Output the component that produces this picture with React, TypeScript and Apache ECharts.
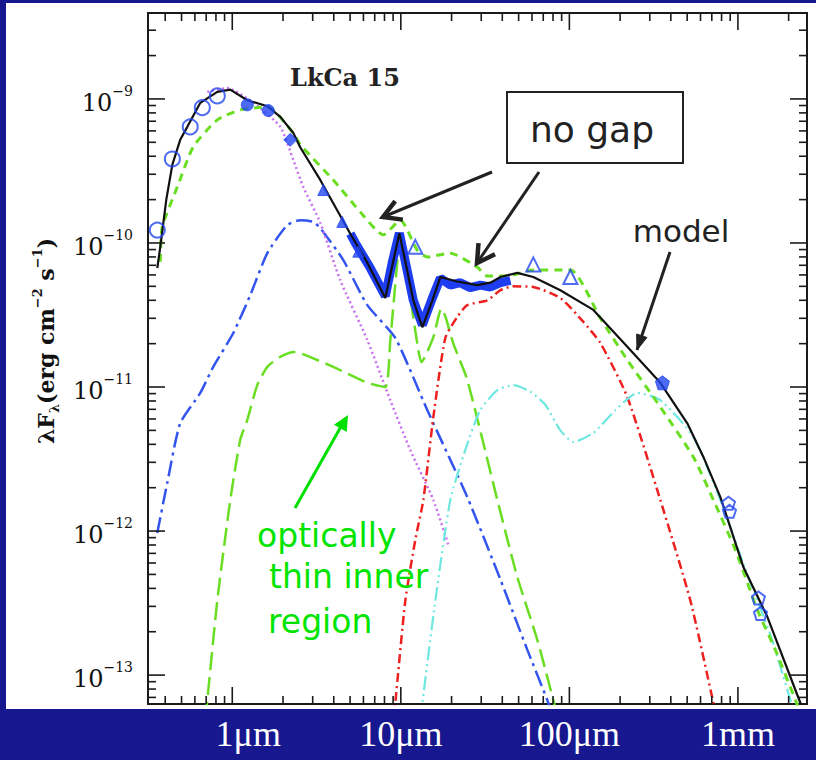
import React, { useEffect, useRef } from 'react';
import * as echarts from 'echarts';

type P = [number, number];

// Axis ranges (wavelength in μm, λFλ in erg cm^-2 s^-1)
const X_MIN = 0.3162;
const X_MAX = 2570;
const Y_MIN = 6.3e-14;
const Y_MAX = 3.95e-9;

const xLabelValues = [1, 10, 100, 1000];
const xLabelTexts = ['1μm', '10μm', '100μm', '1mm'];
const yLabelExponents = [-13, -12, -11, -10, -9];
const tickMultipliers = [1, 2, 3, 4, 5, 6, 7, 8, 9];
const tickDecadesX = [-1, 0, 1, 2, 3];
const tickDecadesY = [-14, -13, -12, -11, -10, -9];

// total model (black)
const totalModel: P[] = [
  [0.359, 6.7e-11], [0.374, 9.4e-11], [0.406, 2.0e-10], [0.441, 3.5e-10], [0.491, 5.2e-10],
  [0.541, 6.4e-10], [0.646, 9.4e-10], [0.815, 1.12e-9], [0.973, 1.16e-9], [1.227, 9.8e-10],
  [1.614, 8.9e-10], [1.928, 7.5e-10], [2.302, 5.8e-10], [2.534, 4.6e-10], [3.327, 2.74e-10],
  [5.015, 1.16e-10], [6.327, 7.3e-11], [8.09, 4.15e-11], [8.91, 7.0e-11], [9.8, 1.17e-10],
  [10.64, 7.4e-11], [11.86, 4.0e-11], [13.42, 2.6e-11], [15.39, 4.0e-11], [17.16, 5.8e-11],
  [21.6, 5.4e-11], [28.4, 5.1e-11], [34.0, 5.3e-11], [39.0, 5.8e-11], [49.1, 6.2e-11],
  [61.1, 5.8e-11], [88.4, 4.7e-11], [138.8, 3.43e-11], [220.8, 1.9e-11], [346.7, 1.07e-11],
  [501, 5.6e-12], [624, 3.27e-12], [787, 1.72e-12], [1079, 5.6e-13], [1497, 2.53e-13],
  [2349, 6.4e-14], [2500, 4.5e-14],
];

// full-disk "no gap" model (green short dashes)
const noGapModel: P[] = [
  [0.374, 7.4e-11], [0.384, 1.29e-10], [0.472, 2.45e-10], [0.587, 4.65e-10], [0.815, 7.15e-10],
  [1.115, 8.4e-10], [1.614, 8.8e-10], [2.302, 5.8e-10], [2.534, 4.8e-10], [3.975, 2.74e-10],
  [5.75, 1.64e-10], [7.87, 1.14e-10], [9.93, 1.44e-10], [12.53, 8.9e-11], [14.37, 8.0e-11],
  [19.67, 8.5e-11], [28.4, 6.8e-11], [32.6, 5.9e-11], [42.9, 5.9e-11], [61.1, 6.5e-11],
  [101.4, 6.5e-11], [152.8, 3.0e-11], [220.8, 1.54e-11], [346.7, 7.26e-12], [544, 3.27e-12],
  [716, 1.64e-12], [966, 7.4e-13], [1306, 2.83e-13], [1671, 1.49e-13], [2195, 6.7e-14],
  [2349, 5.5e-14],
];

// stellar photosphere (magenta dots)
const photosphere: P[] = [
  [0.711, 1.12e-9], [0.933, 1.19e-9], [1.333, 9.4e-10], [1.928, 6.4e-10], [2.302, 3.77e-10],
  [2.637, 2.45e-10], [3.327, 1.38e-10], [4.375, 5.5e-11], [6.327, 2.12e-11], [8.66, 8.1e-12],
  [11.38, 3.65e-12], [15.6, 1.64e-12], [19.14, 8.0e-13],
];

// inner wall (blue dash-dot)
const innerWall: P[] = [
  [0.359, 9.7e-13], [0.411, 2.15e-12], [0.491, 5.6e-12], [0.646, 9.1e-12], [0.771, 1.38e-11],
  [1.014, 2.37e-11], [1.279, 4.35e-11], [1.614, 8.5e-11], [2.12, 1.33e-10], [2.534, 1.44e-10],
  [3.025, 1.4e-10], [3.327, 1.27e-10], [4.56, 7.6e-11], [6.327, 3.7e-11], [9.27, 2.19e-11],
  [14.37, 6.9e-12], [24.8, 1.72e-12], [39.0, 4.6e-13], [56.4, 1.49e-13], [74.0, 6.7e-14],
  [79.3, 5.2e-14],
];

// optically thin inner region (green long dashes)
const thinInner: P[] = [
  [0.691, 4.9e-14], [0.711, 6.7e-14], [0.815, 3.3e-13], [0.973, 1.64e-12], [1.115, 4.3e-12],
  [1.227, 5.9e-12], [1.407, 1.03e-11], [1.614, 1.38e-11], [1.928, 1.62e-11], [2.302, 1.75e-11],
  [2.534, 1.72e-11], [3.975, 1.38e-11], [6.327, 1.07e-11], [8.09, 1.0e-11], [8.66, 2.1e-11],
  [9.53, 7.4e-11], [9.93, 1.05e-10], [10.49, 8.3e-11], [11.38, 4.2e-11], [12.7, 1.81e-11],
  [13.24, 1.49e-11], [15.6, 2.22e-11], [17.39, 3.5e-11], [18.37, 3.1e-11], [20.5, 2.0e-11],
  [24.8, 1.12e-11], [37.4, 1.64e-12], [49.1, 4.8e-13], [64.6, 1.75e-13], [80.3, 6.7e-14],
  [84.9, 5.2e-14],
];

// outer wall (red dash-dot)
const outerWall: P[] = [
  [9.03, 4.9e-14], [9.27, 6.4e-14], [10.64, 3.3e-13], [12.19, 8.7e-13], [13.6, 1.64e-12],
  [15.6, 6.2e-12], [18.37, 2.19e-11], [21.6, 3.06e-11], [24.8, 3.7e-11], [32.6, 4.0e-11],
  [39.0, 4.7e-11], [46.5, 5.0e-11], [61.1, 4.95e-11], [88.4, 4.15e-11], [121.1, 2.83e-11],
  [152.8, 2.02e-11], [220.8, 8.5e-12], [346.7, 1.64e-12], [522, 3.3e-13], [716, 6.4e-14],
  [745, 5.2e-14],
];

// outer disk (cyan dash-dot-dot)
const outerDisk: P[] = [
  [13.05, 4.9e-14], [13.42, 6.4e-14], [16.03, 3.3e-13], [19.67, 1.64e-12], [24.1, 3.65e-12],
  [29.6, 6.9e-12], [37.4, 9.5e-12], [46.5, 1.03e-11], [58.7, 9.3e-12], [72.1, 7.5e-12],
  [88.4, 5.0e-12], [105.6, 4.15e-12], [138.8, 4.8e-12], [187.5, 6.9e-12], [253.3, 9.1e-12],
  [346.7, 8.1e-12], [544, 4.5e-12], [787, 1.64e-12], [1109, 5.4e-13], [1560, 1.9e-13],
  [2051, 6.7e-14], [2195, 5.2e-14],
];

// IRS spectrum (thick blue)
const irsSpectrum: P[] = [
  [5.015, 1.16e-10], [5.37, 1.0e-10], [6.59, 6.7e-11], [8.09, 4.28e-11], [8.91, 7.4e-11],
  [9.8, 1.17e-10], [10.64, 7.4e-11], [11.86, 4.0e-11], [13.42, 2.7e-11], [15.39, 4.15e-11],
  [17.16, 5.7e-11], [19.67, 5.1e-11], [22.5, 5.3e-11], [25.8, 4.9e-11], [29.6, 5.1e-11],
  [34.0, 4.95e-11], [39.0, 5.3e-11], [44.7, 5.5e-11],
];

// photometry
const openCircles: P[] = [[0.359, 1.23e-10], [0.441, 3.83e-10], [0.563, 6.4e-10], [0.664, 8.7e-10], [0.815, 1.05e-9]];
const filledCircles: P[] = [[1.227, 9.1e-10], [1.636, 8.3e-10]];
const filledDiamonds: P[] = [[2.208, 5.2e-10]];
const filledTriangles: P[] = [[3.467, 2.33e-10], [4.497, 1.4e-10], [5.597, 8.7e-11]];
const openTriangles: P[] = [[12.19, 9.4e-11], [61.1, 7.1e-11], [101.4, 5.8e-11]];
const filledPentagons: P[] = [[356.5, 1.07e-11]];
const openPentagons: P[] = [[879, 1.56e-12], [891, 1.37e-12], [1324, 3.43e-13], [1361, 2.68e-13]];

const PENTAGON = 'path://M50,0 L97.6,34.5 L79.4,90.5 L20.6,90.5 L2.4,34.5 Z';
const BLUE = '#2246f0';
const GREEN_MODEL = '#6ade22';

function arrowHead(tail: number[], tip: number[], len: number, ang: number): number[][] {
  const dx = tail[0] - tip[0];
  const dy = tail[1] - tip[1];
  const d = Math.hypot(dx, dy);
  const ux = dx / d;
  const uy = dy / d;
  const r = (a: number) => [
    tip[0] + len * (ux * Math.cos(a) - uy * Math.sin(a)),
    tip[1] + len * (ux * Math.sin(a) + uy * Math.cos(a)),
  ];
  return [r(ang), tip, r(-ang)];
}

export default function App() {
  const ref = useRef<HTMLDivElement>(null);
  useEffect(() => {
    const chart = echarts.init(ref.current!, undefined, { renderer: 'svg' });

    const xTickData: number[][] = [];
    tickDecadesX.forEach((e) =>
      tickMultipliers.forEach((m) => {
        const v = m * Math.pow(10, e);
        if (v >= X_MIN && v <= X_MAX) xTickData.push([v, 1e-11, m === 1 ? 1 : 0]);
      })
    );
    const yTickData: number[][] = [];
    tickDecadesY.forEach((e) =>
      tickMultipliers.forEach((m) => {
        const v = m * Math.pow(10, e);
        if (v >= Y_MIN && v <= Y_MAX) yTickData.push([1, v, m === 1 ? 1 : 0]);
      })
    );

    const lineSeries = (name: string, data: P[], color: string, width: number, type: any, z = 3, smooth: any = 0.2) => ({
      type: 'line',
      name,
      data,
      showSymbol: false,
      symbol: 'none',
      smooth,
      clip: true,
      z,
      lineStyle: { color, width, type },
    });

    const scatter = (name: string, data: P[], symbol: string, size: number, filled: boolean) => ({
      type: 'scatter',
      name,
      data,
      symbol,
      symbolSize: size,
      z: 8,
      itemStyle: filled
        ? { color: BLUE, borderColor: BLUE, borderWidth: 1 }
        : { color: 'rgba(0,0,0,0)', borderColor: BLUE, borderWidth: 2 },
    });

    const a1Tail = [492, 172], a1Tip = [383, 217];
    const a2Tail = [539, 172], a2Tip = [477, 263];
    const a3Tail = [670, 252], a3Tip = [637, 350];
    const gTail = [295, 508], gTip = [348, 415];

    const option: any = {
      animation: false,
      backgroundColor: '#17178f',
      grid: {
        left: 148, top: 13, right: 9, bottom: 56,
        show: true, borderColor: '#1a1a1a', borderWidth: 2, backgroundColor: 'transparent',
        containLabel: false,
      },
      xAxis: {
        type: 'log', logBase: 10, min: X_MIN, max: X_MAX,
        axisLine: { show: false }, axisTick: { show: false }, splitLine: { show: false },
        minorTick: { show: false }, minorSplitLine: { show: false },
        axisLabel: {
          margin: 12,
          showMinLabel: false, showMaxLabel: false,
          formatter: (v: number) => {
            const i = xLabelValues.findIndex((t) => Math.abs(Math.log10(v) - Math.log10(t)) < 1e-3);
            if (i < 0) return '';
            return i === 0 ? `{o|${xLabelTexts[i]}}` : `{n|${xLabelTexts[i]}}`;
          },
          rich: {
            n: { color: '#ffffff', fontFamily: 'Liberation Serif', fontSize: 36 },
            o: { color: '#ffffff', fontFamily: 'Liberation Serif', fontSize: 36, padding: [0, 0, 0, 32] },
          },
        },
      },
      yAxis: {
        type: 'log', logBase: 10, min: Y_MIN, max: Y_MAX,
        axisLine: { show: false }, axisTick: { show: false }, splitLine: { show: false },
        minorTick: { show: false }, minorSplitLine: { show: false },
        axisLabel: {
          margin: 15,
          showMinLabel: false, showMaxLabel: false,
          formatter: (v: number) => {
            const l = Math.log10(v);
            const e = Math.round(l);
            if (Math.abs(l - e) > 1e-3 || !yLabelExponents.includes(e)) return '';
            return `{a|10}{b|−${-e}}`;
          },
          rich: {
            a: { color: '#111', fontFamily: 'DejaVu Serif', fontSize: 24, lineHeight: 30, padding: [8, 0, 0, 0] },
            b: { color: '#111', fontFamily: 'DejaVu Serif', fontSize: 14, verticalAlign: 'top' },
          },
        },
      },
      series: [
        lineSeries('inner wall', innerWall, '#3355ee', 2.5, [16, 5, 3, 5]),
        lineSeries('stellar photosphere', photosphere, '#c86ef0', 2.5, [2, 3]),
        lineSeries('optically thin inner region', thinInner, GREEN_MODEL, 2.5, [18, 7]),
        lineSeries('outer wall', outerWall, '#ee2020', 2.5, [9, 4, 2, 4]),
        lineSeries('outer disk', outerDisk, '#6ee8e0', 2.2, [14, 4, 2, 4, 2, 4]),
        lineSeries('no gap model', noGapModel, GREEN_MODEL, 3, [8, 6], 4),
        lineSeries('IRS spectrum', irsSpectrum, '#1e3cf0', 9, 'solid', 5, false),
        lineSeries('model', totalModel, '#111111', 2.2, 'solid', 6, false),
        scatter('open circles', openCircles, 'circle', 15, false),
        scatter('filled circles', filledCircles, 'circle', 12, true),
        scatter('filled diamonds', filledDiamonds, 'diamond', 13, true),
        scatter('filled triangles', filledTriangles, 'triangle', 11, true),
        scatter('open triangles', openTriangles, 'triangle', 14, false),
        scatter('filled pentagons', filledPentagons, PENTAGON, 14, true),
        scatter('open pentagons', openPentagons, PENTAGON, 13, false),
        {
          type: 'custom',
          name: 'x ticks',
          data: xTickData,
          encode: { x: 0, y: 1 },
          clip: false,
          z: 10,
          renderItem: (params: any, api: any) => {
            const v = api.value(0);
            const len = api.value(2) ? 17 : 8;
            const b = api.coord([v, Y_MIN]);
            const t = api.coord([v, Y_MAX]);
            const st = { stroke: '#1a1a1a', lineWidth: 1.6 };
            return {
              type: 'group',
              children: [
                { type: 'line', shape: { x1: b[0], y1: b[1], x2: b[0], y2: b[1] - len }, style: st },
                { type: 'line', shape: { x1: t[0], y1: t[1], x2: t[0], y2: t[1] + len }, style: st },
              ],
            };
          },
        },
        {
          type: 'custom',
          name: 'y ticks',
          data: yTickData,
          encode: { x: 0, y: 1 },
          clip: false,
          z: 10,
          renderItem: (params: any, api: any) => {
            const v = api.value(1);
            const len = api.value(2) ? 17 : 8;
            const l = api.coord([X_MIN, v]);
            const r = api.coord([X_MAX, v]);
            const st = { stroke: '#1a1a1a', lineWidth: 1.6 };
            return {
              type: 'group',
              children: [
                { type: 'line', shape: { x1: l[0], y1: l[1], x2: l[0] + len, y2: l[1] }, style: st },
                { type: 'line', shape: { x1: r[0], y1: r[1], x2: r[0] - len, y2: r[1] }, style: st },
              ],
            };
          },
        },
      ],
      graphic: {
        elements: [
          { type: 'rect', z: -10, silent: true, shape: { x: 6, y: 3, width: 810, height: 706 }, style: { fill: '#ffffff' } },
          {
            type: 'text', z: 20, x: 290, y: 77,
            style: { text: 'LkCa 15', fill: '#222', font: 'bold 24px "DejaVu Serif"', align: 'left', verticalAlign: 'middle' },
          },
          {
            type: 'text', z: 20, x: 46, y: 341, rotation: Math.PI / 2,
            style: {
              text: '{m|λF}{s|λ}{m|(erg cm}{p|−2}{m| s}{p|−1}{m|)}',
              align: 'center', verticalAlign: 'middle',
              rich: {
                m: { fontSize: 22, fontFamily: 'DejaVu Serif', fontWeight: 'bold', fill: '#111', lineHeight: 30 },
                s: { fontSize: 13, fontFamily: 'DejaVu Serif', fontWeight: 'bold', fill: '#111', verticalAlign: 'bottom' },
                p: { fontSize: 13, fontFamily: 'DejaVu Serif', fontWeight: 'bold', fill: '#111', verticalAlign: 'top' },
              },
            },
          },
          { type: 'rect', z: 20, shape: { x: 507, y: 92, width: 176, height: 71 }, style: { fill: '#ffffff', stroke: '#222', lineWidth: 2 } },
          {
            type: 'text', z: 21, x: 592, y: 129,
            style: { text: 'no gap', fill: '#222', font: '36px "DejaVu Sans"', align: 'center', verticalAlign: 'middle' },
          },
          {
            type: 'text', z: 21, x: 681, y: 231,
            style: { text: 'model', fill: '#222', font: '31px "DejaVu Sans"', align: 'center', verticalAlign: 'middle' },
          },
          { type: 'line', z: 20, shape: { x1: a1Tail[0], y1: a1Tail[1], x2: a1Tip[0], y2: a1Tip[1] }, style: { stroke: '#222', lineWidth: 3 } },
          { type: 'polyline', z: 20, shape: { points: arrowHead(a1Tail, a1Tip, 20, Math.PI / 6) }, style: { stroke: '#222', lineWidth: 4.5, fill: 'none' } },
          { type: 'line', z: 20, shape: { x1: a2Tail[0], y1: a2Tail[1], x2: a2Tip[0], y2: a2Tip[1] }, style: { stroke: '#222', lineWidth: 3 } },
          { type: 'polyline', z: 20, shape: { points: arrowHead(a2Tail, a2Tip, 20, Math.PI / 6) }, style: { stroke: '#222', lineWidth: 4.5, fill: 'none' } },
          { type: 'line', z: 20, shape: { x1: a3Tail[0], y1: a3Tail[1], x2: a3Tip[0], y2: a3Tip[1] }, style: { stroke: '#222', lineWidth: 3 } },
          { type: 'polygon', z: 20, shape: { points: arrowHead(a3Tail, a3Tip, 16, Math.PI / 9) }, style: { fill: '#222', stroke: '#222', lineWidth: 1 } },
          { type: 'line', z: 20, shape: { x1: gTail[0], y1: gTail[1], x2: gTip[0] - 5, y2: gTip[1] + 8 }, style: { stroke: '#00e000', lineWidth: 3 } },
          { type: 'polygon', z: 20, shape: { points: arrowHead(gTail, gTip, 17, Math.PI / 7) }, style: { fill: '#00e000' } },
          {
            type: 'text', z: 21, x: 257, y: 535,
            style: { text: 'optically', fill: '#00e400', font: '33px "DejaVu Sans"', align: 'left', verticalAlign: 'middle' },
          },
          {
            type: 'text', z: 21, x: 269, y: 576,
            style: { text: 'thin inner', fill: '#00e400', font: '33px "DejaVu Sans"', align: 'left', verticalAlign: 'middle' },
          },
          {
            type: 'text', z: 21, x: 268, y: 621,
            style: { text: 'region', fill: '#00e400', font: '33px "DejaVu Sans"', align: 'left', verticalAlign: 'middle' },
          },
        ],
      },
    };

    chart.setOption(option);
    return () => chart.dispose();
  }, []);
  return <div ref={ref} style={{ position: 'fixed', left: 0, top: 0, width: 816, height: 760 }} />;
}
